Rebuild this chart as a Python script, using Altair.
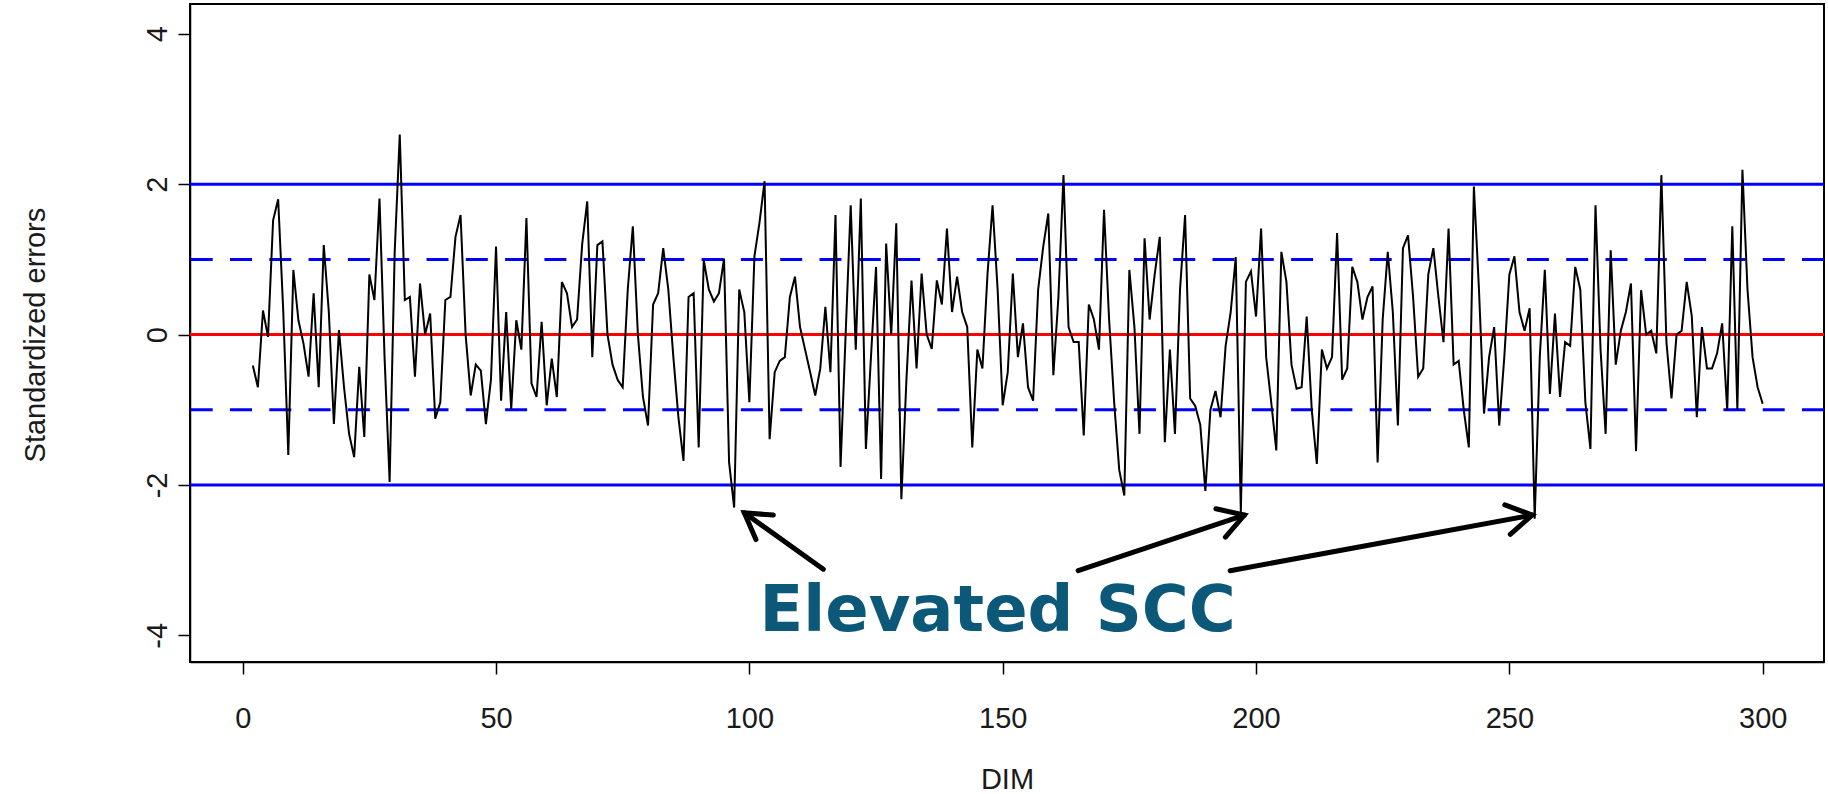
import math
import altair as alt
import pandas as pd

# ---------------- data ----------------
dim = list(range(2, 301))
errors = [
    -0.41, -0.70, 0.32, -0.03, 1.52, 1.80, 0.32, -1.60, 0.86,            # 2-10
    0.19, -0.12, -0.56, 0.55, -0.70, 1.19, 0.30, -1.19, 0.06, -0.70,     # 11-20
    -1.32, -1.63, -0.43, -1.36, 0.80, 0.46, 1.81, -0.30, -1.96, 1.10,    # 21-30
    2.66, 0.46, 0.50, -0.56, 0.68, 0.00, 0.28, -1.12, -0.90, 0.46,       # 31-40
    0.50, 1.30, 1.59, 0.00, -0.81, -0.40, -0.48, -1.19, -0.60, 1.17,     # 41-50
    -0.88, 0.30, -0.99, 0.19, -0.20, 1.55, -0.65, -0.83, 0.17, -0.94,    # 51-60
    -0.32, -0.83, 0.70, 0.55, 0.10, 0.20, 1.20, 1.77, -0.30, 1.19,       # 61-70
    1.24, 0.00, -0.40, -0.60, -0.70, 0.60, 1.44, 0.00, -0.83, -1.21,     # 71-80
    0.40, 0.55, 1.15, 0.60, -0.30, -1.10, -1.68, 0.50, 0.55, -1.50,      # 81-90
    0.99, 0.60, 0.44, 0.55, 1.01, -1.70, -2.30, 0.60, 0.30, -0.90,       # 91-100
    1.04, 1.49, 2.04, -1.39, -0.50, -0.35, -0.30, 0.50, 0.77, 0.10,      # 101-110
    -0.20, -0.50, -0.81, -0.45, 0.37, -0.50, 1.59, -1.76, 0.00, 1.72,    # 111-120
    -0.20, 1.81, -1.52, -0.30, 0.90, -1.92, 1.21, 0.00, 1.48, -2.19,     # 121-130
    -0.60, 0.72, -0.45, 0.81, 0.00, -0.19, 0.72, 0.40, 1.41, 0.30,       # 131-140
    0.77, 0.30, 0.10, -1.50, -0.20, -0.45, 0.80, 1.72, 0.60, -0.94,      # 141-150
    -0.50, 0.81, -0.30, 0.15, -0.70, -0.88, 0.60, 1.17, 1.61, -0.54,     # 151-160
    0.50, 2.12, 0.10, -0.10, -0.10, -1.34, 0.40, 0.20, -0.20, 1.66,      # 161-170
    0.20, -0.90, -1.80, -2.14, 0.86, 0.10, -1.32, 1.28, 0.20, 0.80,      # 171-180
    1.30, -1.43, -0.20, -1.32, 0.60, 1.59, -0.85, -0.95, -1.20, -2.08,   # 181-190
    -1.00, -0.75, -1.10, -0.15, 0.30, 1.03, -2.36, 0.70, 0.84, 0.24,     # 191-200
    1.41, -0.30, -0.90, -1.54, 1.10, 0.70, -0.40, -0.72, -0.70, 0.24,    # 201-210
    -1.00, -1.72, -0.20, -0.45, -0.30, 1.35, -0.60, -0.45, 0.90, 0.70,   # 211-220
    0.20, 0.50, 0.64, -1.70, 0.20, 1.10, 0.30, -1.21, 1.15, 1.32,        # 221-230
    0.50, -0.56, -0.45, 0.80, 1.15, 0.50, -0.10, 1.41, -0.40, -0.35,     # 231-240
    -1.00, -1.50, 1.97, 0.60, -1.05, -0.30, 0.10, -1.21, -0.30, 0.80,    # 241-250
    1.04, 0.30, 0.05, 0.35, -2.45, -0.30, 0.86, -0.79, 0.28, -0.83,      # 251-260
    -0.10, -0.15, 0.90, 0.60, -0.90, -1.52, 1.72, -0.20, -1.32, 1.12,    # 261-270
    -0.40, 0.05, 0.30, 0.68, -1.55, 0.59, 0.00, 0.05, -0.25, 2.12,       # 271-280
    -0.10, -0.85, 0.00, 0.05, 0.70, 0.25, -1.10, 0.10, -0.45, -0.45,     # 281-290
    -0.25, 0.15, -1.01, 1.44, -1.00, 2.19, 0.60, -0.30, -0.70, -0.92,    # 291-300
]

solid_limits = [-2, 2]
dashed_limits = [-1, 1]
center_line = [0]

x_ticks = [0, 50, 100, 150, 200, 250, 300]
y_ticks = [-4, -2, 0, 2, 4]

arrow_start_x = [114.6, 164.9, 194.9]
arrow_start_y = [-3.12, -3.14, -3.14]
arrow_end_x = [99.0, 197.7, 254.5]
arrow_end_y = [-2.37, -2.40, -2.40]

annotation_text = ["Elevated SCC"]
annotation_x = [149.0]
annotation_y = [-3.69]

# ---------------- layout ----------------
TOP = 4
W, H = 1634, 658
X_DOM = [-10.4, 312.1]
Y_DOM = [-4.354, 4.396]
px_x = W / (X_DOM[1] - X_DOM[0])
px_y = H / (Y_DOM[1] - Y_DOM[0])

n = min(len(dim), len(errors))
series = pd.DataFrame({"DIM": dim[:n], "err": errors[:n]})

xs = alt.Scale(domain=X_DOM, nice=False, zero=False)
ys = alt.Scale(domain=Y_DOM, nice=False, zero=False)

FONT = "Liberation Sans"
TXT = "#1a1a1a"

x_axis = alt.Axis(
    values=x_ticks, title="DIM", grid=False, labelFont=FONT, labelFontSize=29,
    labelColor=TXT, tickSize=12, tickColor="#000", tickWidth=1.5,
    domainColor="#000", domainWidth=1.5, labelPadding=30, labelBaseline="top",
    titleFont=FONT, titleFontSize=29, titleFontWeight="normal", titleColor=TXT,
    titleX=W / 2, titleY=117, titleBaseline="middle", titleAlign="center",
    labelFlush=False,
)
y_axis = alt.Axis(
    values=y_ticks, title="Standardized errors", grid=False, labelFont=FONT,
    labelFontSize=29, labelColor=TXT, tickSize=12, tickColor="#000",
    tickWidth=1.5, domainColor="#000", domainWidth=1.5, labelAngle=-90,
    labelAlign="center", labelBaseline="alphabetic", labelPadding=12,
    labelExpr="datum.value < 0 ? '-' + abs(datum.value) : '' + datum.value",
    titleFont=FONT, titleFontSize=29, titleFontWeight="normal", titleColor=TXT,
    titleX=-155, titleY=334.6 - TOP, titleAngle=270, titleBaseline="middle", titleAlign="center",
    labelFlush=False,
)

line = alt.Chart(series).mark_line(color="#000000", strokeWidth=2).encode(
    x=alt.X("DIM:Q", scale=xs, axis=x_axis),
    y=alt.Y("err:Q", scale=ys, axis=y_axis),
)

solid = alt.Chart(pd.DataFrame({"v": solid_limits})).mark_rule(
    color="#0000FF", strokeWidth=3).encode(y=alt.Y("v:Q", scale=ys))
dashed = alt.Chart(pd.DataFrame({"v": dashed_limits})).mark_rule(
    color="#0000FF", strokeWidth=3, strokeDash=[22, 17.3]).encode(y=alt.Y("v:Q", scale=ys))
zero = alt.Chart(pd.DataFrame({"v": center_line})).mark_rule(
    color="#FF0000", strokeWidth=3).encode(y=alt.Y("v:Q", scale=ys))

arrows = pd.DataFrame({
    "x": arrow_start_x, "y": arrow_start_y, "x2": arrow_end_x, "y2": arrow_end_y,
})
arrows["ang"] = [
    (math.degrees(math.atan2(-(ey - sy) * px_y, (ex - sx) * px_x)) + 360) % 360
    for sx, sy, ex, ey in zip(arrow_start_x, arrow_start_y, arrow_end_x, arrow_end_y)
]

shafts = alt.Chart(arrows).mark_rule(color="#000000", strokeWidth=5, strokeCap="round").encode(
    x=alt.X("x:Q", scale=xs), y=alt.Y("y:Q", scale=ys),
    x2="x2:Q", y2="y2:Q",
)
heads = alt.Chart(arrows).mark_point(
    shape="M -1 -0.6 L 0 0 L -1 0.6", filled=False, color="#000000",
    strokeWidth=5, size=2500, opacity=1, strokeCap="round", strokeJoin="miter",
).encode(
    x=alt.X("x2:Q", scale=xs), y=alt.Y("y2:Q", scale=ys),
    angle=alt.Angle("ang:Q", scale=None),
)

label = alt.Chart(pd.DataFrame({"t": annotation_text, "x": annotation_x, "y": annotation_y})).mark_text(
    font="DejaVu Sans", fontWeight="bold", fontSize=64, color="#0C5878",
    align="center", baseline="middle",
).encode(x=alt.X("x:Q", scale=xs), y=alt.Y("y:Q", scale=ys), text="t:N")

chart = alt.layer(solid, dashed, zero, line, shafts, heads, label).properties(
    width=W, height=H,
    padding={"left": 190, "top": TOP, "right": 4, "bottom": 794 - TOP - H},
    autosize=alt.AutoSizeParams(type="none"),
    background="white",
).configure_view(stroke="#000000", strokeWidth=2)

chart.save("out.html", embed_options={"renderer": "svg", "actions": False})
